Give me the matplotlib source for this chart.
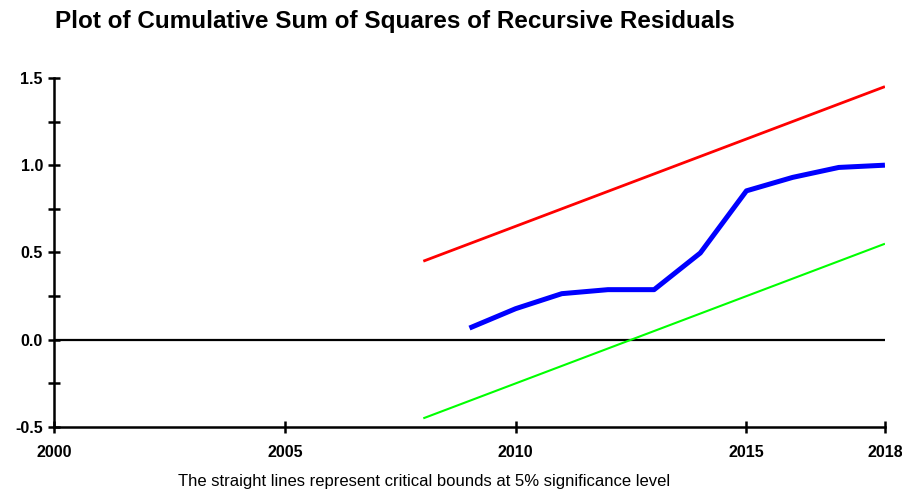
import matplotlib
matplotlib.use('Agg')
import matplotlib.pyplot as plt
import numpy as np

plt.rcParams['font.family'] = ['Liberation Sans', 'DejaVu Sans']

# data
years = [2009, 2010, 2011, 2012, 2013, 2014, 2015, 2016, 2017, 2018]
cusumsq = [0.067, 0.178, 0.264, 0.287, 0.287, 0.497, 0.853, 0.930, 0.987, 1.0]
bound_years = [2008, 2018]
upper_bound = [0.45, 1.45]
lower_bound = [-0.45, 0.55]
xticks = [2000, 2005, 2010, 2015, 2018]
yticks = [-0.5, 0.0, 0.5, 1.0, 1.5]

fig = plt.figure(figsize=(9.03, 4.96), dpi=100)
ax = fig.add_axes([0.0598, 0.139, 0.9202, 0.704])

ax.axhline(0, color='black', lw=1.6, zorder=1)
ax.plot(bound_years, upper_bound, color='#FF0000', lw=2.0, solid_capstyle='butt')
ax.plot(bound_years, lower_bound, color='#00FF00', lw=1.5, solid_capstyle='butt')
ax.plot(years, cusumsq, color='#0000FF', lw=3.6, solid_capstyle='butt')

ax.set_xlim(2000, 2018)
ax.set_ylim(-0.5, 1.5)
ax.set_xticks(xticks)
ax.set_yticks(yticks)
ax.set_yticklabels(['{:.1f}'.format(v) for v in yticks])
ax.set_yticks(np.arange(-0.25, 1.5, 0.5), minor=True)

for s in ['top', 'right']:
    ax.spines[s].set_visible(False)
for s in ['left', 'bottom']:
    ax.spines[s].set_linewidth(1.8)

ax.tick_params(axis='both', which='both', direction='inout', width=1.8,
               labelsize=11.5, pad=4)
ax.tick_params(axis='both', which='major', length=8)
ax.tick_params(axis='y', which='minor', length=8)
ax.tick_params(axis='x', pad=9)
for lbl in ax.get_xticklabels() + ax.get_yticklabels():
    lbl.set_fontweight('bold')

fig.text(0.061, 0.957, 'Plot of Cumulative Sum of Squares of Recursive Residuals',
         fontsize=17.5, fontweight='bold', ha='left', va='center')
fig.text(0.47, 0.03, 'The straight lines represent critical bounds at 5% significance level',
         fontsize=12, ha='center', va='center')

fig.savefig('out.png', dpi=100)
